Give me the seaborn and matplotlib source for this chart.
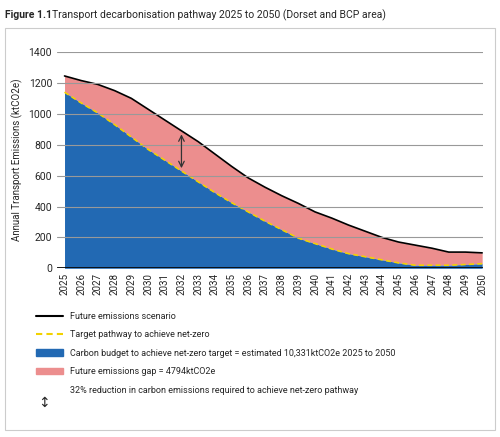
import matplotlib
matplotlib.use("Agg")
import matplotlib.pyplot as plt
import seaborn as sns
import pandas as pd
from matplotlib.lines import Line2D
from matplotlib.patches import Patch, Rectangle

years = list(range(2025, 2051))
future = [1245,1215,1190,1150,1100,1030,960,890,820,740,660,585,525,470,420,365,325,280,240,200,170,150,130,105,105,100]
target = [1140,1070,1005,930,850,770,700,630,560,490,425,365,305,250,195,160,125,95,75,55,35,20,20,20,25,30]
yticks = [0,200,400,600,800,1000,1200,1400]
legend_labels = ["Future emissions scenario", "Target pathway to achieve net-zero",
                 "Carbon budget to achieve net-zero target = estimated 10,331ktCO2e 2025 to 2050",
                 "Future emissions gap = 4794ktCO2e",
                 "32% reduction in carbon emissions required to achieve net-zero pathway"]

df = pd.DataFrame({"year": years, "future": future, "target": target})
sns.set_style("white")
plt.rcParams['font.family'] = ['Roboto', 'DejaVu Sans']

fig = plt.figure(figsize=(5.0, 4.37), dpi=100)
fig.patches.append(Rectangle((0.01, 0.015), 0.98, 0.92, transform=fig.transFigure,
                             fill=False, edgecolor="#cccccc", lw=0.8))
ax = fig.add_axes([0.114, 0.386, 0.852, 0.495])
red = "#ec8e8e"; blue = "#2269b3"
ax.fill_between(df.year, df.target, df.future, color=red, lw=0)
ax.fill_between(df.year, 0, df.target, color=blue, lw=0)
sns.lineplot(data=df, x="year", y="future", color="black", lw=1.2, ax=ax)
sns.lineplot(data=df, x="year", y="target", color="#f2d200", lw=1.2, ls=(0, (3, 2)), ax=ax)
ax.axhline(0, color="black", lw=2)
ax.annotate("", xy=(2032, 630), xytext=(2032, 885),
            arrowprops=dict(arrowstyle="<->", color="#333333", lw=0.9))
ax.set_xlim(2024.55, 2050.05)
ax.set_ylim(0, 1400)
ax.set_yticks(yticks)
ax.set_xticks(years)
ax.set_xticklabels([str(y) for y in years], rotation=90, fontsize=7)
ax.tick_params(axis="y", labelsize=7.5, length=0)
ax.tick_params(axis="x", length=0)
ax.grid(axis="y", color="#999999", lw=0.8)
ax.set_axisbelow(False)
for s in ax.spines.values():
    s.set_visible(False)
ax.set_xlabel("")
ax.set_ylabel("Annual Transport Emissions (ktCO2e)", fontsize=7)

fig.text(0.01, 0.965, "Figure 1.1", fontsize=7.5, fontweight="bold", va="center")
fig.text(0.105, 0.965, "Transport decarbonisation pathway 2025 to 2050 (Dorset and BCP area)",
         fontsize=7.5, va="center")

handles = [Line2D([0], [0], color="black", lw=1.5),
           Line2D([0], [0], color="#f2d200", lw=1.5, ls=(0, (3, 2))),
           Patch(color=blue), Patch(color=red),
           Line2D([0], [0], color="white", lw=0)]
leg = fig.legend(handles, legend_labels, loc="upper left", bbox_to_anchor=(0.055, 0.305),
                 frameon=False, fontsize=6.5, handlelength=3, labelspacing=1.05)
fig.text(0.087, 0.077, "↕", fontsize=10, va="center", ha="center")
fig.savefig("out.png", dpi=100)
